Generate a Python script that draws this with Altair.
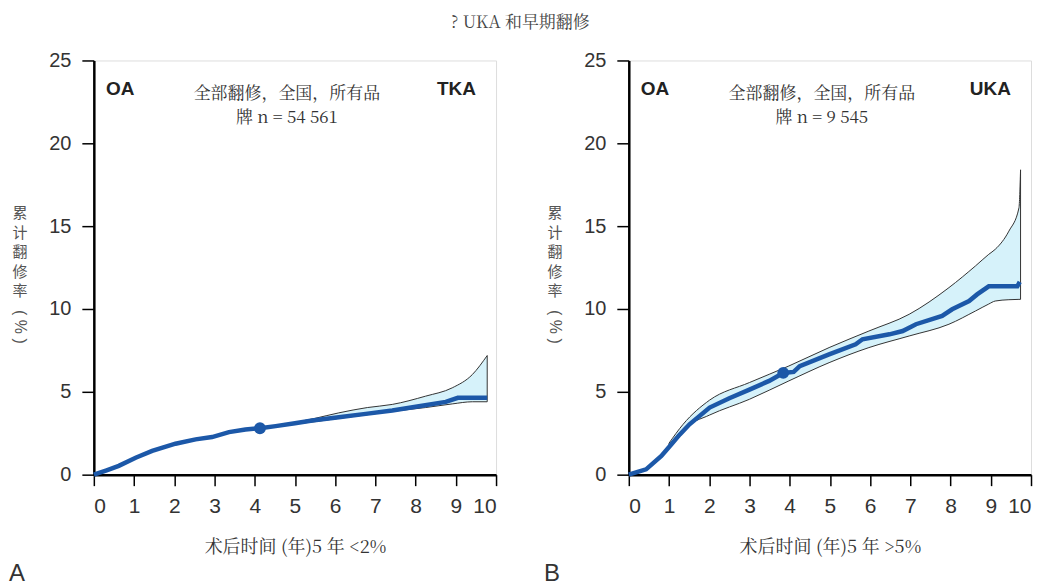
import altair as alt
import pandas as pd

# ---------------- Panel A : TKA ----------------
a_t = [0, 0.3, 0.62, 1.04, 1.45, 2.03, 2.53, 2.94, 3.36, 3.77, 4.13, 4.52, 5.0, 5.43, 6.09, 6.76, 7.42, 8.08, 8.75, 9.05, 9.78]
a_v = [0, 0.25, 0.53, 1.02, 1.43, 1.87, 2.13, 2.27, 2.57, 2.73, 2.8, 2.93, 3.1, 3.27, 3.47, 3.67, 3.87, 4.13, 4.39, 4.64, 4.64]
a_band_t = [4.8, 5.5, 6.09, 6.8, 7.42, 8.25, 8.91, 9.41, 9.78]
a_band_hi = [3.05, 3.4, 3.73, 4.05, 4.24, 4.74, 5.24, 6.04, 7.19]
a_band_lo = [3.0, 3.2, 3.4, 3.62, 3.82, 4.05, 4.27, 4.4, 4.4]
a_dot_t = [4.13]
a_dot_v = [2.8]

# ---------------- Panel B : UKA ----------------
b_t = [0, 0.2, 0.43, 0.81, 1.06, 1.27, 1.51, 2.01, 2.5, 3.0, 3.49, 3.84, 4.1, 4.25, 4.98, 5.64, 5.81, 6.48,
       6.81, 7.14, 7.79, 8.04, 8.46, 8.66, 8.95, 9.66, 9.72]
b_v = [0, 0.15, 0.32, 1.13, 1.83, 2.43, 3.04, 4.05, 4.61, 5.13, 5.66, 6.14, 6.2, 6.55, 7.26, 7.87, 8.17, 8.47,
       8.67, 9.08, 9.58, 9.98, 10.48, 10.88, 11.37, 11.37, 11.64]
b_band_t = [1.0, 1.35, 2.01, 3.0, 3.98, 4.98, 5.97, 6.97, 7.96, 8.62, 8.95, 9.11, 9.45, 9.7, 9.74]
b_band_hi = [1.9, 3.04, 4.5, 5.56, 6.56, 7.67, 8.67, 9.68, 11.29, 12.6, 13.3, 13.6, 14.7, 16.1, 18.4]
b_band_lo = [1.75, 2.75, 3.6, 4.55, 5.66, 6.76, 7.67, 8.37, 9.08, 9.88, 10.3, 10.48, 10.56, 10.58, 10.58]
b_dot_t = [3.84]
b_dot_v = [6.14]

x_ticks = list(range(11))
y_ticks = [0, 5, 10, 15, 20, 25]
y_title_chars = ["累", "计", "翻", "修", "率"]

SERIF = "Noto Serif CJK SC, Noto Sans CJK SC, serif"
CJK = "Noto Sans CJK SC"
SANS = "Liberation Sans, Arial, sans-serif"
NARROW = "Liberation Sans Narrow, Arial Narrow, Liberation Sans, sans-serif"

W, H = 403, 415
LINE_C = "#1c58a8"
FILL_C = "#d6f2fa"


def panel(t, v, bt, bhi, blo, dt, dv, tag, n_text, xtitle, letter):
    line_df = pd.DataFrame({"t": t, "v": v})
    band_df = pd.DataFrame({"t": bt, "hi": bhi, "lo": blo})
    dot_df = pd.DataFrame({"t": dt, "v": dv})

    xs = alt.Scale(domain=[0, 10], nice=False)
    ys = alt.Scale(domain=[0, 25], nice=False)
    xaxis = alt.Axis(values=x_ticks, title=xtitle, grid=False, domainColor="black", domainWidth=2.5,
                     tickColor="black", tickWidth=1.5, tickSize=11, labelFont=NARROW, labelFontSize=21,
                     labelColor="#333", labelPadding=10, titleFont=SERIF, titleFontSize=18,
                     titleFontWeight="normal", titleColor="#333", titlePadding=22)
    yaxis = alt.Axis(values=y_ticks, title=None, grid=False, domainColor="black", domainWidth=2.5,
                     tickColor="black", tickWidth=1.5, tickSize=12, labelFont=SANS, labelFontSize=20,
                     labelColor="#333", labelPadding=11)

    band = alt.Chart(band_df).mark_area(fill=FILL_C, stroke="#333", strokeWidth=1,
                                        interpolate="monotone").encode(
        x=alt.X("t:Q", scale=xs, axis=xaxis),
        y=alt.Y("hi:Q", scale=ys, axis=yaxis),
        y2="lo:Q")
    line = alt.Chart(line_df).mark_line(color=LINE_C, strokeWidth=4.5).encode(
        x=alt.X("t:Q", scale=xs, axis=xaxis), y=alt.Y("v:Q", scale=ys, axis=yaxis))
    dot = alt.Chart(dot_df).mark_circle(color=LINE_C, size=140, opacity=1).encode(
        x=alt.X("t:Q", scale=xs), y=alt.Y("v:Q", scale=ys))

    bold_df = pd.DataFrame({"t": [0.3, 9.5], "v": [23.3, 23.3], "txt": ["OA", tag],
                            "al": ["left", "right"]})
    oa = alt.Chart(bold_df[bold_df.al == "left"]).mark_text(
        font=SANS, fontSize=19, fontWeight="bold", color="#222", align="left").encode(
        x=alt.X("t:Q", scale=xs), y=alt.Y("v:Q", scale=ys), text="txt:N")
    tg = alt.Chart(bold_df[bold_df.al == "right"]).mark_text(
        font=SANS, fontSize=19, fontWeight="bold", color="#222", align="right").encode(
        x=alt.X("t:Q", scale=xs), y=alt.Y("v:Q", scale=ys), text="txt:N")

    note_df = pd.DataFrame({"t": [4.8, 4.8], "v": [22.95, 21.5],
                            "txt": ["全部翻修，全国，所有品", n_text]})
    note = alt.Chart(note_df).mark_text(font=SERIF, fontSize=17, color="#333",
                                        baseline="middle").encode(
        x=alt.X("t:Q", scale=xs), y=alt.Y("v:Q", scale=ys), text="txt:N")

    ylayers = []
    for i, ch in enumerate(y_title_chars):
        ylayers.append(alt.Chart(line_df.head(1)).mark_text(
            text=ch, font=CJK, fontSize=15, color="#555", align="center",
            baseline="middle").encode(x=alt.value(-74), y=alt.value(153 + 19.5 * i)))
    pct = alt.Chart(line_df.head(1)).mark_text(
        text="( % )", font=SANS, fontSize=16, color="#555", angle=90, align="center",
        baseline="middle").encode(x=alt.value(-74), y=alt.value(267))
    let = alt.Chart(line_df.head(1)).mark_text(
        text=letter, font=SANS, fontSize=24, color="#333", align="left",
        baseline="alphabetic").encode(x=alt.value(-85), y=alt.value(H + 107))

    return alt.layer(band, line, dot, oa, tg, note, *ylayers, pct, let).properties(width=W, height=H)


left = panel(a_t, a_v, a_band_t, a_band_hi, a_band_lo, a_dot_t, a_dot_v, "TKA", "牌 n = 54 561",
             "术后时间 (年)5 年  <2%", "A")
right = panel(b_t, b_v, b_band_t, b_band_hi, b_band_lo, b_dot_t, b_dot_v, "UKA", "牌 n = 9 545",
              "术后时间 (年)5 年  >5%", "B")

chart = alt.hconcat(left, right, spacing=45).properties(
    padding={"left": 0, "top": 5, "right": 5, "bottom": 5},
    title=alt.TitleParams("? UKA 和早期翻修", font=SERIF, fontSize=17, fontWeight="normal",
                          color="#444", anchor="middle", offset=18)
).configure_view(stroke=None).configure(background="white")

chart.save("out.html", embed_options={"renderer": "svg", "actions": False})
